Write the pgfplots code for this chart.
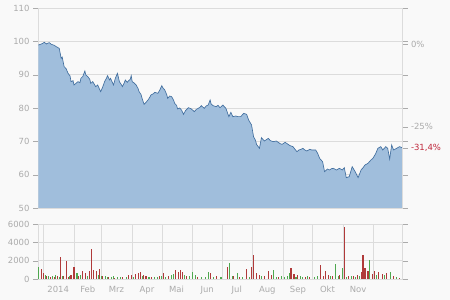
\documentclass[border=0pt]{standalone}
\usepackage{pgfplots}
\pgfplotsset{compat=1.18}
\usepackage{pgfplotstable}
\usepackage{fontspec}
\setmainfont{DejaVu Sans}
\definecolor{bg}{HTML}{F9F9F9}
\definecolor{gridc}{HTML}{DCDCDC}
\definecolor{tickc}{HTML}{ABABAB}
\definecolor{areaf}{HTML}{A0BEDC}
\definecolor{areal}{HTML}{416E9E}
\definecolor{upc}{HTML}{4FA84F}
\definecolor{dnc}{HTML}{B03A3A}
\definecolor{pctred}{HTML}{C0283C}
\pgfplotstableread{
x y
-5 98.9
-2 99.2
1 99.7
3 99.2
4 99.4
6 99.6
8 99.1
11 98.8
13 98.4
16 97.9
18 94.9
19 95.3
21 92.4
23 91.8
25 90.4
27 89.6
28 87.9
30 88.2
31 86.9
33 87.4
35 87.9
37 87.6
38 88.9
40 89.5
42 91.1
43 89.9
45 89.4
47 88.6
48 87.4
50 87.9
53 86.4
55 86.9
58 84.9
60 86.2
62 87.9
64 89.0
65 89.7
67 88.4
68 88.9
70 87.6
71 86.9
73 89.0
75 90.4
76 89.2
77 87.9
79 87.0
80 86.4
82 87.6
83 88.4
85 87.7
86 88.1
88 88.6
89 89.7
90 87.9
92 87.5
94 86.9
96 85.8
97 84.9
99 84.0
100 82.9
102 81.1
104 81.7
106 82.4
108 83.3
109 83.9
111 84.2
113 84.7
116 84.4
118 85.4
120 86.7
121 86.1
123 85.4
125 84.0
126 82.9
128 83.6
130 83.4
132 82.3
133 81.4
135 80.8
136 79.7
138 80.0
140 79.4
142 78.1
144 79.2
147 80.1
150 79.7
153 78.9
155 79.6
157 79.9
159 80.3
160 80.7
163 79.9
165 80.6
167 80.9
169 82.4
170 81.2
172 80.7
175 80.4
177 80.8
179 80.1
182 80.9
183 80.5
185 79.9
187 78.2
188 77.4
190 78.7
192 77.4
195 77.6
197 77.4
200 77.4
203 78.4
206 78.1
208 76.4
211 74.9
213 71.4
215 70.3
216 69.1
219 67.9
221 71.1
224 70.1
226 70.5
228 70.9
230 70.2
233 69.9
236 70.1
238 69.7
240 69.3
242 69.1
245 69.7
248 69.1
250 68.7
253 68.4
255 67.6
257 66.9
259 67.4
261 67.6
263 67.9
265 67.4
267 67.1
270 67.6
272 67.4
276 67.4
278 66.4
280 64.9
283 63.9
285 60.9
288 61.7
290 61.4
292 61.8
294 61.9
297 61.4
300 61.9
303 61.4
305 62.1
307 59.1
310 59.4
313 62.4
316 60.9
319 59.1
322 61.4
324 62.1
326 62.9
329 63.4
332 64.4
334 64.9
337 66.4
339 67.9
342 68.4
344 67.4
347 68.4
349 67.9
351 64.7
353 68.9
355 67.4
358 67.9
361 68.4
364 68.05
}\price
\pgfplotsset{
  base/.style={
    scale only axis, width=364.5bp, xmin=-5.5, xmax=364,
    axis line style={gridc}, tick align=outside,
    major tick length=5bp,
    ytick style={tickc}, xtick style={draw=none},
    tick label style={font=\fontsize{8.5}{10}\selectfont, text=tickc},
    /pgf/number format/assume math mode=true,
    /pgf/number format/1000 sep={},
    grid style={gridc, line width=0.6pt},
    minor xtick={0,31,59,90,120,151,181,212,243,273,304,334},
    xminorgrids=true, minor tick length=0pt,
    minor grid style={gridc, line width=0.6pt},
    ymajorgrids=true,
    anchor=south west,
  }
}
\begin{document}
\begin{tikzpicture}
\fill[bg] (0,0) rectangle (450bp,300bp);
% price
\begin{axis}[base, at={(38bp,92bp)}, height=200bp, ymin=50, ymax=110,
  ytick={50,60,...,110}, xtick=\empty]
\addplot[draw=none, fill=areaf] table {\price} \closedcycle;
\addplot[areal, line width=0.65pt] table {\price};
\end{axis}
% right percentage axis
\begin{axis}[base, at={(38bp,92bp)}, height=200bp, ymin=50, ymax=110,
  axis x line=none, axis y line*=right, ymajorgrids=false, xminorgrids=false,
  ytick={99.2,74.4,68.05},
  yticklabels={0\%,-25\%,\textcolor{pctred}{-31,4\%}}]
\addplot[draw=none] coordinates {(0,60)};
\end{axis}
% volume
\begin{axis}[base, at={(38bp,21bp)}, height=55bp, ymin=0, ymax=6000,
  ytick={0,2000,4000,6000}, scaled y ticks=false,
  xtick={15,45,74,105,135,166,196,227,258,288,319},
  xticklabels={2014,Feb,Mrz,Apr,Mai,Jun,Jul,Aug,Sep,Okt,Nov},
  xticklabel style={yshift=1bp}]
\addplot[ycomb, mark=none, upc, line width=1.1bp] coordinates {
(-5,1310) (2,400) (5,350) (9,300) (12,400) (16,250) (19,300) (26,350) (34,650)
(38,400) (45,300) (56,470) (59,360) (63,300) (65,250) (69,200) (71,300) (75,250)
(78,200) (84,250) (91,200) (100,300) (107,200) (113,250) (116,200) (120,300)
(124,200) (130,400) (132,500) (143,400) (148,300) (151,730) (154,400) (160,200)
(164,250) (167,730) (172,200) (180,250) (189,1750) (192,300) (197,650) (202,250)
(209,200) (221,300) (233,950) (236,250) (241,300) (244,250) (247,350) (249,650)
(256,200) (261,350) (263,250) (268,350) (275,200) (278,300) (291,300) (296,1650)
(299,350) (303,1200) (307,250) (312,300) (316,200) (320,300) (331,2100) (338,400)
(346,450) (352,730) (358,200)
};
\addplot[ycomb, mark=none, dnc, line width=1.1bp] coordinates {
(-2,1100) (0,650) (3,300) (7,250) (11,200) (14,300) (17,2400) (20,300) (23,2000)
(25,250) (28,400) (31,1300) (36,300) (40,850) (43,650) (47,850) (49,3300) (51,1000)
(54,900) (57,1100) (60,300) (66,200) (72,150) (80,200) (86,450) (89,470) (93,580)
(96,650) (98,730) (101,470) (104,300) (110,250) (118,300) (122,650) (127,350)
(134,1000) (137,800) (139,1000) (141,730) (145,300) (156,250) (169,650) (175,300)
(187,1300) (193,300) (199,200) (206,1100) (211,1300) (213,2650) (216,650) (219,400)
(224,350) (228,850) (231,450) (238,200) (251,1200) (254,500) (258,400) (266,200)
(270,200) (281,1560) (284,300) (286,850) (289,450) (293,350) (300,400) (305,5700)
(309,350) (314,300) (318,450) (322,800) (324,2650) (326,1200) (329,900) (334,500)
(336,850) (340,730) (344,500) (348,600) (355,300) (361,150)
};
\end{axis}
\pgfresetboundingbox
\useasboundingbox (0,0) rectangle (450bp,300bp);
\end{tikzpicture}
\end{document}
